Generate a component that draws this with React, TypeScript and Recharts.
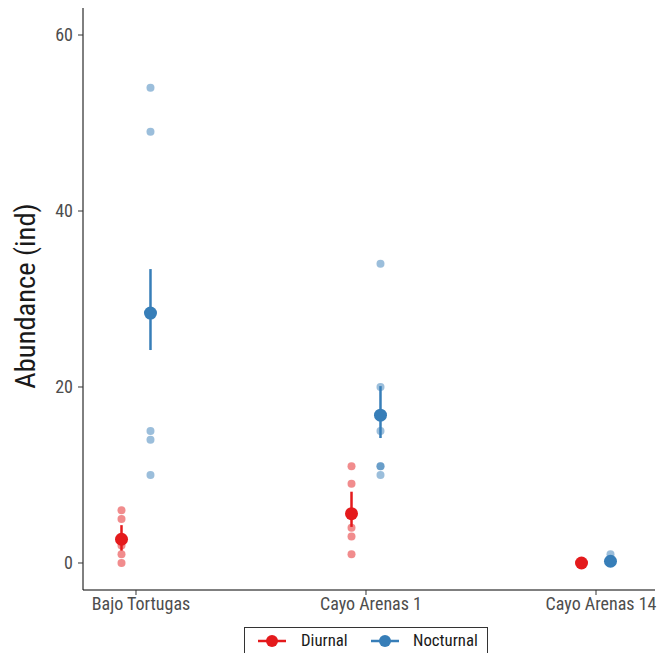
import { ComposedChart, Scatter, XAxis, YAxis, ErrorBar } from "recharts"

const sites = ["Bajo Tortugas", "Cayo Arenas 1", "Cayo Arenas 14"]

// raw counts per site
const diurnalRaw = [
  [6, 5, 2, 1, 0],
  [11, 9, 4, 3, 1],
  [0, 0, 0, 0, 0],
]
const nocturnalRaw = [
  [54, 49, 15, 14, 10],
  [34, 20, 15, 11, 11, 10],
  [1, 0, 0, 0, 0],
]

// mean with interval
const diurnalMean = [2.7, 5.6, 0]
const diurnalLow = [1.4, 4.1, 0]
const diurnalHigh = [4.3, 8.1, 0]
const nocturnalMean = [28.4, 16.8, 0.2]
const nocturnalLow = [24.2, 14.2, 0]
const nocturnalHigh = [33.4, 20.1, 0.4]

const yTicks = [0, 20, 40, 60]

const RED = "#E41A1C"
const BLUE = "#377EB8"
const FONT = "'Liberation Sans Narrow', 'Roboto Condensed', Roboto, sans-serif"
const DODGE = 0.063

const rawPoints = (raw: number[][], shift: number) =>
  raw.flatMap((vals, i) => vals.map((v) => ({ x: i + 1 + shift, y: v })))

const meanPoints = (mean: number[], low: number[], high: number[], shift: number) =>
  mean.map((m, i) => ({ x: i + 1 + shift, y: m, err: [m - low[i], high[i] - m] }))

const dot = (r: number, color: string, opacity: number) => (props: any) => (
  <circle cx={props.cx} cy={props.cy} r={r} fill={color} fillOpacity={opacity} />
)

const legendItems = [
  { name: "Diurnal", color: RED, left: 13, textLeft: 56 },
  { name: "Nocturnal", color: BLUE, left: 126, textLeft: 168 },
]

const LegendBox = () => (
  <div
    style={{
      position: "absolute",
      left: 244,
      top: 627,
      width: 244,
      height: 30,
      border: "1px solid #333",
      boxSizing: "border-box",
      fontFamily: FONT,
      fontSize: 16.8,
      color: "#1a1a1a",
    }}
  >
    {legendItems.map((item) => (
      <div key={item.name}>
        <svg width={28} height={16} style={{ position: "absolute", left: item.left, top: 5 }}>
          <line x1={0} y1={8} x2={28} y2={8} stroke={item.color} strokeWidth={2.5} />
          <circle cx={14} cy={8} r={6} fill={item.color} />
        </svg>
        <span style={{ position: "absolute", left: item.textLeft, top: 2, lineHeight: "20px" }}>{item.name}</span>
      </div>
    ))}
  </div>
)

const YTitle = (props: any) => {
  const cy = props.viewBox.y + props.viewBox.height / 2 - 3
  return (
    <text
      x={25}
      y={cy}
      transform={`rotate(-90, 25, ${cy})`}
      textAnchor="middle"
      dominantBaseline="central"
      fontSize={28.5}
      fontFamily={FONT}
      fill="#1a1a1a"
    >
      Abundance (ind)
    </text>
  )
}

const App = () => {
  const tick = { fill: "#4d4d4d", fontSize: 18, fontFamily: FONT }
  return (
    <div style={{ position: "absolute", left: 0, top: 0, width: 668, height: 653, background: "#fff" }}>
      <ComposedChart width={668} height={653} margin={{ top: 8, right: 13, bottom: 0, left: 0 }}>
        <XAxis
          type="number"
          dataKey="x"
          domain={[0.7696, 3.2565]}
          ticks={[1, 2, 3]}
          tickFormatter={(v: number) => sites[v - 1]}
          allowDataOverflow
          height={63}
          stroke="#000"
          tickLine={{ stroke: "#333" }}
          tickSize={5}
          tick={{ ...tick, dx: 5 }}
        />
        <YAxis
          type="number"
          dataKey="y"
          domain={[-3.07, 63.07]}
          ticks={yTicks}
          allowDataOverflow
          width={83}
          stroke="#000"
          tickLine={{ stroke: "#333" }}
          tickSize={5}
          tickMargin={5}
          tick={tick}
          label={<YTitle />}
        />
        <Scatter data={rawPoints(diurnalRaw, -DODGE)} shape={dot(4, RED, 0.5)} isAnimationActive={false} />
        <Scatter data={rawPoints(nocturnalRaw, DODGE)} shape={dot(4, BLUE, 0.5)} isAnimationActive={false} />
        <Scatter
          data={meanPoints(diurnalMean, diurnalLow, diurnalHigh, -DODGE)}
          shape={dot(6.5, RED, 1)}
          isAnimationActive={false}
        >
          <ErrorBar dataKey="err" direction="y" width={0} stroke={RED} strokeWidth={2.5} isAnimationActive={false} />
        </Scatter>
        <Scatter
          data={meanPoints(nocturnalMean, nocturnalLow, nocturnalHigh, DODGE)}
          shape={dot(6.5, BLUE, 1)}
          isAnimationActive={false}
        >
          <ErrorBar dataKey="err" direction="y" width={0} stroke={BLUE} strokeWidth={2.5} isAnimationActive={false} />
        </Scatter>
      </ComposedChart>
      <LegendBox />
    </div>
  )
}

export default App
